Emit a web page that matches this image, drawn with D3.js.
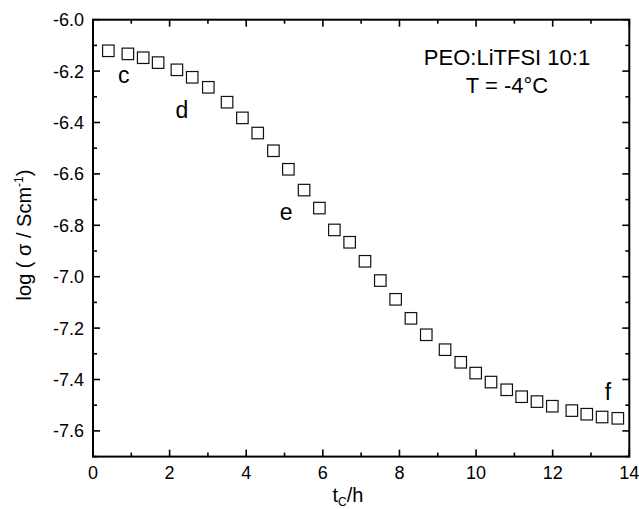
<!DOCTYPE html>
<html>
<head>
<meta charset="utf-8">
<script src="https://cdn.jsdelivr.net/npm/d3@7"></script>
<style>
  body { margin: 0; background: #fff; }
  text { font-family: "Liberation Sans", Arial, sans-serif; fill: #000; }
</style>
</head>
<body>
<svg id="chart"></svg>
<script>
// data
const timeH = [0.40, 0.91, 1.31, 1.70, 2.19, 2.59, 3.01, 3.50, 3.90, 4.30, 4.71,
  5.10, 5.51, 5.91, 6.30, 6.70, 7.10, 7.50, 7.90, 8.30, 8.70, 9.19, 9.60, 9.99,
  10.39, 10.80, 11.19, 11.59, 11.99, 12.50, 12.89, 13.29, 13.70];
const logSigma = [-6.121, -6.133, -6.148, -6.167, -6.195, -6.224, -6.263, -6.321,
  -6.382, -6.441, -6.510, -6.582, -6.663, -6.733, -6.818, -6.866, -6.940, -7.015,
  -7.088, -7.162, -7.226, -7.284, -7.333, -7.375, -7.410, -7.440, -7.467, -7.486,
  -7.504, -7.521, -7.535, -7.546, -7.551];
const xTicks = [0, 2, 4, 6, 8, 10, 12, 14];
const xMinor = [1, 3, 5, 7, 9, 11, 13];
const yTicks = [-7.6, -7.4, -7.2, -7.0, -6.8, -6.6, -6.4, -6.2, -6.0];
const yMinor = [-7.7, -7.5, -7.3, -7.1, -6.9, -6.7, -6.5, -6.3, -6.1];
const letters = [
  { t: "c", x: 0.8, y: -6.245 },
  { t: "d", x: 2.32, y: -6.382 },
  { t: "e", x: 5.04, y: -6.779 },
  { t: "f", x: 13.44, y: -7.48 }
];

const W = 639, H = 509;
const margin = { left: 93, top: 20, right: 10, bottom: 52 };

const svg = d3.select("#chart").attr("width", W).attr("height", H);

const x = d3.scaleLinear().domain([0, 14]).range([margin.left, 629.3]);
const y = d3.scaleLinear().domain([-7.7, -6.0]).range([456.6, 19.7]);

const g = svg.append("g");

// ticks (all inward, mirrored on top/right)
const majLen = 7, minLen = 4;
function tickLines(vals, len, isX) {
  vals.forEach(v => {
    if (isX) {
      g.append("line").attr("x1", x(v)).attr("x2", x(v))
        .attr("y1", y(-7.7)).attr("y2", y(-7.7) - len);
      g.append("line").attr("x1", x(v)).attr("x2", x(v))
        .attr("y1", y(-6.0)).attr("y2", y(-6.0) + len);
    } else {
      g.append("line").attr("y1", y(v)).attr("y2", y(v))
        .attr("x1", x(0)).attr("x2", x(0) + len);
      g.append("line").attr("y1", y(v)).attr("y2", y(v))
        .attr("x1", x(14)).attr("x2", x(14) - len);
    }
  });
}
tickLines(xTicks, majLen, true);
tickLines(xMinor, minLen, true);
tickLines(yTicks, majLen, false);
tickLines(yMinor, minLen, false);
g.selectAll("line").attr("stroke", "#000").attr("stroke-width", 1.6);

// frame
g.append("rect")
  .attr("x", x(0)).attr("y", y(-6.0))
  .attr("width", x(14) - x(0)).attr("height", y(-7.7) - y(-6.0))
  .attr("fill", "none").attr("stroke", "#000").attr("stroke-width", 2);

// tick labels
g.selectAll(".xl").data(xTicks).enter().append("text")
  .attr("x", d => x(d)).attr("y", 479)
  .attr("text-anchor", "middle").attr("font-size", 18)
  .text(d => d);

g.selectAll(".yl").data(yTicks).enter().append("text")
  .attr("x", 84).attr("y", d => y(d) + 6.5)
  .attr("text-anchor", "end").attr("font-size", 18)
  .text(d => d3.format(".1f")(d).replace("−", "-"));

// axis titles
const yt = svg.append("text")
  .attr("transform", "translate(31,235) rotate(-90)")
  .attr("text-anchor", "middle").attr("font-size", 20);
yt.append("tspan").text("log ( \u03c3 / Scm");
yt.append("tspan").attr("font-size", 12).attr("dy", -8).text("-1");
yt.append("tspan").attr("dy", 8).text(")");

const xt = svg.append("text")
  .attr("x", 348).attr("y", 502)
  .attr("text-anchor", "middle").attr("font-size", 20);
xt.append("tspan").text("t");
xt.append("tspan").attr("font-size", 12).attr("dy", 4).text("C");
xt.append("tspan").attr("dy", -4).text("/h");

// data markers
const s = 11.5;
svg.append("g").selectAll("rect")
  .data(timeH.map((t, i) => [t, logSigma[i]]))
  .enter().append("rect")
  .attr("x", d => x(d[0]) - s / 2)
  .attr("y", d => y(d[1]) - s / 2)
  .attr("width", s).attr("height", s)
  .attr("fill", "none").attr("stroke", "#111").attr("stroke-width", 1.2);

// annotations
svg.append("text").attr("x", 507).attr("y", 65)
  .attr("text-anchor", "middle").attr("font-size", 22)
  .text("PEO:LiTFSI 10:1");
svg.append("text").attr("x", 507).attr("y", 93)
  .attr("text-anchor", "middle").attr("font-size", 22)
  .text("T = -4\u00b0C");

svg.selectAll(".lt").data(letters).enter().append("text")
  .attr("x", d => x(d.x)).attr("y", d => y(d.y))
  .attr("text-anchor", "middle").attr("font-size", 23)
  .text(d => d.t);
</script>
</body>
</html>
